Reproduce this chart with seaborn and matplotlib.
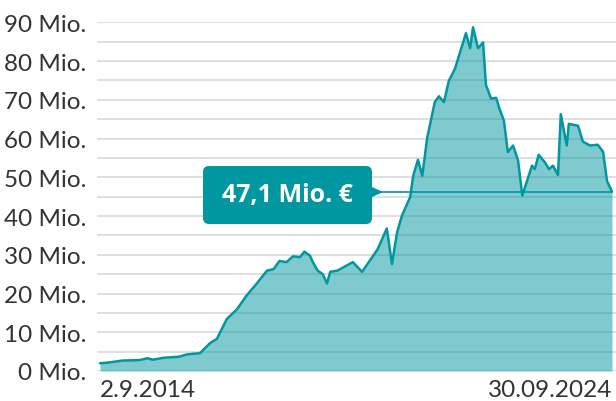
import pandas as pd
import matplotlib.pyplot as plt
import seaborn as sns
from matplotlib.patches import FancyBboxPatch, Polygon
from matplotlib.transforms import IdentityTransform

# Data (value in Mio. €)
dates = ["2014-09-02", "2014-11-05", "2015-02-10", "2015-06-10", "2015-08-10", "2015-09-15",
         "2015-12-01", "2016-03-25", "2016-05-20", "2016-08-20", "2016-11-01", "2016-12-20",
         "2017-03-01", "2017-05-15", "2017-07-20", "2017-10-01", "2017-12-15", "2018-02-01",
         "2018-03-15", "2018-05-05", "2018-06-20", "2018-08-10", "2018-09-10", "2018-10-20",
         "2018-11-10", "2018-12-15", "2019-01-20", "2019-02-20", "2019-03-15", "2019-05-05",
         "2019-08-25", "2019-10-30", "2019-12-25", "2020-02-20", "2020-04-25", "2020-06-01",
         "2020-07-08", "2020-08-12", "2020-10-10", "2020-11-01", "2020-12-05", "2021-01-05",
         "2021-02-10", "2021-04-05", "2021-05-05", "2021-06-10", "2021-07-15", "2021-08-28",
         "2021-11-15", "2021-12-15", "2022-01-05", "2022-02-10", "2022-03-18", "2022-04-08",
         "2022-05-15", "2022-06-20", "2022-07-15", "2022-08-15", "2022-09-12", "2022-10-20",
         "2022-11-25", "2022-12-25", "2023-03-05", "2023-03-25", "2023-04-22", "2023-06-05",
         "2023-07-05", "2023-08-03", "2023-09-08", "2023-09-28", "2023-11-10", "2023-11-25",
         "2024-01-30", "2024-03-05", "2024-04-25", "2024-06-20", "2024-07-28", "2024-08-25",
         "2024-09-30"]
values = [2.0, 2.2, 2.7, 2.8, 3.3, 2.9,
          3.4, 3.7, 4.3, 4.6, 7.2, 8.3,
          13.4, 16.0, 19.4, 22.5, 25.9, 26.3,
          28.4, 28.1, 29.6, 29.4, 30.8, 29.8,
          28.1, 25.9, 25.0, 22.6, 25.6, 25.9,
          28.1, 25.6, 28.5, 31.5, 36.8, 27.6,
          35.8, 40.1, 44.9, 50.4, 54.5, 50.4,
          60.3, 69.4, 70.9, 69.4, 74.9, 78.0,
          87.2, 83.3, 88.7, 83.3, 84.8, 73.8,
          70.3, 70.5, 67.6, 64.6, 56.5, 58.2,
          54.3, 45.3, 53.0, 52.1, 55.8, 53.9,
          52.1, 53.0, 50.6, 66.3, 58.2, 63.8,
          63.3, 59.2, 58.2, 58.4, 56.6, 49.1,
          46.3]

y_ticks = [0, 10, 20, 30, 40, 50, 60, 70, 80, 90]
y_labels = [f"{t} Mio." for t in y_ticks]
x_labels = ["2.9.2014", "30.09.2024"]
last_label = "47,1 Mio. €"

df = pd.DataFrame({"date": pd.to_datetime(dates), "value": values})

teal = "#0097a1"
text_col = "#333333"

sns.set_style("white")
plt.rcParams["font.family"] = ["Lato", "DejaVu Sans"]

fig = plt.figure(figsize=(6.16, 4.02), dpi=100)
ax = fig.add_axes([97 / 616, 1 - 372 / 402, 519 / 616, (372 - 23.3) / 402])

# Area + line
ax.fill_between(df["date"], df["value"], 0, color=teal, alpha=0.5, linewidth=0)
sns.lineplot(data=df, x="date", y="value", ax=ax, color=teal, linewidth=1.8)

# Axes limits and grid
ax.set_xlim(pd.Timestamp("2014-08-11"), pd.Timestamp("2024-10-29"))
ax.set_ylim(0, 90)
ax.set_yticks(y_ticks)
ax.set_yticklabels(y_labels)
ax.set_yticks(range(5, 90, 10), minor=True)
ax.set_axisbelow(True)
ax.grid(axis="y", which="both", color="#d6d6d6", linewidth=1.1)
ax.tick_params(axis="y", which="major", direction="in", length=8, width=2.2,
               color="#b4b4b4", pad=8, labelsize=17.5, labelcolor=text_col)
ax.tick_params(axis="y", which="minor", length=0)

ax.set_xticks([df["date"].iloc[0], df["date"].iloc[-1]])
ax.set_xticklabels(x_labels)
ax.tick_params(axis="x", length=0, pad=6, labelsize=17.5, labelcolor=text_col)
xt = ax.get_xticklabels()
xt[0].set_ha("left")
xt[1].set_ha("right")

ax.set_xlabel("")
ax.set_ylabel("")
for s in ax.spines.values():
    s.set_visible(False)

# Label for the latest value (box drawn in pixel coords, y from bottom)
ax.axhline(values[-1], xmin=(381 - 97) / 519, xmax=(612 - 97) / 519, color=teal, linewidth=1.2)
box = FancyBboxPatch((203, 402 - 225), 169, 58, boxstyle="round,pad=0,rounding_size=6",
                     facecolor=teal, edgecolor="none", transform=IdentityTransform())
fig.patches.append(box)
pointer = Polygon([(371, 402 - 187.5), (371, 402 - 198.5), (383, 402 - 193)], closed=True,
                  facecolor=teal, edgecolor="none", transform=IdentityTransform())
fig.patches.append(pointer)
fig.text(287.5 / 616, 1 - 196 / 402, last_label, ha="center", va="center",
         fontsize=18, fontweight="bold", color="white", family=["Open Sans", "DejaVu Sans"])

fig.savefig("out.png", dpi=100)
